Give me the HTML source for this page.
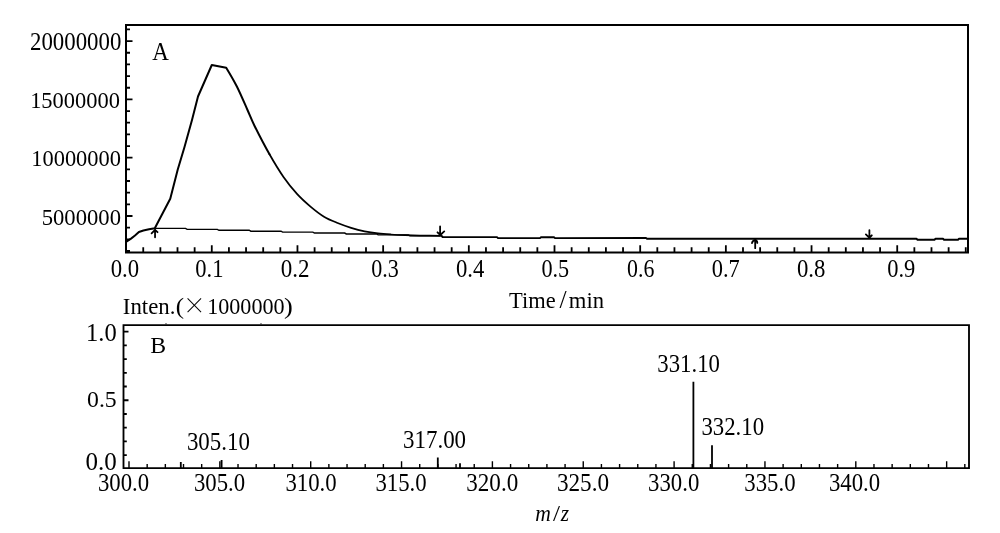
<!DOCTYPE html>
<html lang="en">
<head>
<meta charset="utf-8">
<title>Chromatogram and mass spectrum</title>
<style>
html,body{margin:0;padding:0;background:#fff;}
body{width:1000px;height:533px;overflow:hidden;}
svg{display:block;}
text{fill:#000;}
.ln{stroke:#000;fill:none;}
</style>
</head>
<body>
<svg width="1000" height="533" viewBox="0 0 1000 533">
<rect width="1000" height="533" fill="#fff"/>
<g class="ln" stroke-width="2.00" stroke-linecap="square">
<path d="M126.00 252.50V25.00H968.00V252.50Z"/>
</g>
<path class="ln" stroke-width="1.80" d="M126.00 29.44h4.00M126.00 41.10h6.50M126.00 52.76h4.00M126.00 64.42h4.00M126.00 76.08h4.00M126.00 87.74h4.00M126.00 99.40h6.50M126.00 111.06h4.00M126.00 122.72h4.00M126.00 134.38h4.00M126.00 146.04h4.00M126.00 157.70h6.50M126.00 169.36h4.00M126.00 181.02h4.00M126.00 192.68h4.00M126.00 204.34h4.00M126.00 216.00h6.50M126.00 227.66h4.00M126.00 239.32h4.00M126.00 250.98h4.00"/>
<path class="ln" stroke-width="1.80" d="M143.24 252.50v-5.20M160.37 252.50v-5.20M177.51 252.50v-5.20M194.64 252.50v-5.20M211.78 252.50v-7.30M228.92 252.50v-5.20M246.05 252.50v-5.20M263.19 252.50v-5.20M280.32 252.50v-5.20M297.46 252.50v-7.30M314.60 252.50v-5.20M331.73 252.50v-5.20M348.87 252.50v-5.20M366.00 252.50v-5.20M383.14 252.50v-7.30M400.28 252.50v-5.20M417.41 252.50v-5.20M434.55 252.50v-5.20M451.68 252.50v-5.20M468.82 252.50v-7.30M485.96 252.50v-5.20M503.09 252.50v-5.20M520.23 252.50v-5.20M537.36 252.50v-5.20M554.50 252.50v-7.30M571.64 252.50v-5.20M588.77 252.50v-5.20M605.91 252.50v-5.20M623.04 252.50v-5.20M640.18 252.50v-7.30M657.32 252.50v-5.20M674.45 252.50v-5.20M691.59 252.50v-5.20M708.72 252.50v-5.20M725.86 252.50v-7.30M743.00 252.50v-5.20M760.13 252.50v-5.20M777.27 252.50v-5.20M794.40 252.50v-5.20M811.54 252.50v-7.30M828.68 252.50v-5.20M845.81 252.50v-5.20M862.95 252.50v-5.20M880.08 252.50v-5.20M897.22 252.50v-7.30M914.36 252.50v-5.20M931.49 252.50v-5.20M948.63 252.50v-5.20M965.76 252.50v-5.20"/>
<path class="ln" stroke-width="2.0" stroke-linejoin="round" stroke-linecap="round" d="M126.75 241.50L131.00 238.60L135.00 235.50L138.90 232.00L143.40 230.50L149.00 229.20L154.80 228.30L170.25 198.75L177.75 169.50L184.50 147.00L192.00 120.00L198.00 96.50L211.80 65.00L226.20 67.70C226.20 67.70 233.45 79.70 237.00 86.75C240.55 93.80 244.57 103.46 247.50 110.00C250.43 116.54 250.93 118.62 254.60 126.00C258.27 133.38 264.68 145.80 269.50 154.30"/>
<path class="ln" stroke-width="1.75" stroke-linejoin="round" stroke-linecap="round" d="M269.50 154.30C274.32 162.80 278.92 170.40 283.50 177.00C288.08 183.60 292.50 188.97 297.00 193.90C301.50 198.83 306.00 202.80 310.50 206.60C315.00 210.40 319.48 213.97 324.00 216.70C328.52 219.43 333.08 221.15 337.60 223.00C342.12 224.85 346.60 226.42 351.10 227.80C355.60 229.18 360.12 230.37 364.60 231.30C369.08 232.23 373.60 232.87 378.00 233.40C382.40 233.93 386.50 234.20 391.00 234.50C395.50 234.80 400.17 235.02 405.00 235.20C409.83 235.38 413.92 235.50 420.00 235.60C426.08 235.70 437.92 235.77 441.50 235.80"/>
<path class="ln" stroke-width="1.9" stroke-linejoin="round" d="M441.50 235.80L442.60 237.00L497.00 237.10L498.00 238.10L540.00 238.10L541.00 237.20L554.00 237.20L555.00 238.10L646.00 238.00L647.00 238.80L916.50 238.75L917.50 239.75L934.50 239.75L935.50 238.75L943.00 238.75L944.00 239.75L958.00 239.75L959.00 238.75L968.00 238.75"/>
<path class="ln" stroke-width="1.4" d="M154.50 228.40L185.53 228.40L187.13 229.33L217.37 229.33L218.97 230.25L249.20 230.25L250.80 231.18L281.03 231.18L282.63 232.10L312.87 232.10L314.47 233.03L344.70 233.03L346.30 233.95L376.53 233.95L378.13 234.88L408.37 234.88L409.97 235.80L440.20 235.80"/>
<path class="ln" stroke-width="1.8" stroke-linecap="round" stroke-linejoin="round" d="M155.05 237.3V229.5M151.6 233.3L155.05 229.8L157.5 232.2M440.1 226.4V235M437.5 232.3L440.3 235L444.2 231.4M755.2 248.2V239.6M752.0 243.2Q752.4 240.4 755.2 239.8Q757.3 240.4 757.3 242.9M869.4 230.2V237.8M865.9 234.4L869.4 237.8L871.8 235.3"/>
<g class="ln" stroke-width="1.85" stroke-linecap="square">
<path d="M123.50 468.10V325.10H969.00V468.10Z"/>
</g>
<path class="ln" stroke-width="1.80" d="M123.50 455.17h3.30M123.50 441.44h3.30M123.50 427.71h3.30M123.50 413.98h3.30M123.50 400.25h5.00M123.50 386.52h3.30M123.50 372.79h3.30M123.50 359.06h3.30M123.50 345.33h3.30M123.50 331.60h5.00"/>
<path class="ln" stroke-width="1.4" d="M129.00 468.10v-6.90M147.17 468.10v-4.10M165.34 468.10v-4.10M183.51 468.10v-4.10M201.68 468.10v-4.10M219.85 468.10v-6.90M238.02 468.10v-4.10M256.19 468.10v-4.10M274.36 468.10v-4.10M292.53 468.10v-4.10M310.70 468.10v-6.90M328.87 468.10v-4.10M347.04 468.10v-4.10M365.21 468.10v-4.10M383.38 468.10v-4.10M401.55 468.10v-6.90M419.72 468.10v-4.10M437.89 468.10v-4.10M456.06 468.10v-4.10M474.23 468.10v-4.10M492.40 468.10v-6.90M510.57 468.10v-4.10M528.74 468.10v-4.10M546.91 468.10v-4.10M565.08 468.10v-4.10M583.25 468.10v-6.90M601.42 468.10v-4.10M619.59 468.10v-4.10M637.76 468.10v-4.10M655.93 468.10v-4.10M674.10 468.10v-6.90M692.27 468.10v-4.10M710.44 468.10v-4.10M728.61 468.10v-4.10M746.78 468.10v-4.10M764.95 468.10v-6.90M783.12 468.10v-4.10M801.29 468.10v-4.10M819.46 468.10v-4.10M837.63 468.10v-4.10M855.80 468.10v-6.90M873.97 468.10v-4.10M892.14 468.10v-4.10M910.31 468.10v-4.10M928.48 468.10v-4.10M946.65 468.10v-6.90M964.82 468.10v-4.10"/>
<path class="ln" stroke-width="1.8" d="M180.80 468.10V462.00M221.60 468.10V460.00M437.80 468.10V457.60M460.00 468.10V463.20M693.40 468.10V381.75M712.00 468.10V445.20"/>
<path class="ln" stroke-width="1.3" stroke-opacity="0.8" d="M166 324.3v-1.1M261 324.3v-1.1"/>
<text transform="translate(29.99 49.70) scale(0.9445 1)" font-family="'Liberation Serif', serif" font-size="24.20">20000000</text>
<text transform="translate(30.14 108.00) scale(0.9559 1)" font-family="'Liberation Serif', serif" font-size="23.50">15000000</text>
<text transform="translate(31.25 166.35) scale(0.9548 1)" font-family="'Liberation Serif', serif" font-size="23.50">10000000</text>
<text transform="translate(41.74 225.00) scale(0.9638 1)" font-family="'Liberation Serif', serif" font-size="23.50">5000000</text>
<text transform="translate(110.69 277.00) scale(0.9395 1)" font-family="'Liberation Serif', serif" font-size="24.20">0.0</text>
<text transform="translate(195.30 277.00) scale(0.9309 1)" font-family="'Liberation Serif', serif" font-size="24.20">0.1</text>
<text transform="translate(280.78 277.00) scale(0.9521 1)" font-family="'Liberation Serif', serif" font-size="24.20">0.2</text>
<text transform="translate(371.31 277.00) scale(0.9117 1)" font-family="'Liberation Serif', serif" font-size="24.20">0.3</text>
<text transform="translate(455.89 277.00) scale(0.9376 1)" font-family="'Liberation Serif', serif" font-size="24.20">0.4</text>
<text transform="translate(541.41 277.00) scale(0.9187 1)" font-family="'Liberation Serif', serif" font-size="24.20">0.5</text>
<text transform="translate(627.02 277.00) scale(0.9033 1)" font-family="'Liberation Serif', serif" font-size="24.20">0.6</text>
<text transform="translate(711.70 277.00) scale(0.9273 1)" font-family="'Liberation Serif', serif" font-size="24.20">0.7</text>
<text transform="translate(796.89 277.00) scale(0.9395 1)" font-family="'Liberation Serif', serif" font-size="24.20">0.8</text>
<text transform="translate(887.20 277.00) scale(0.9291 1)" font-family="'Liberation Serif', serif" font-size="24.20">0.9</text>
<text transform="translate(152.20 59.70) scale(0.9408 1)" font-family="'Liberation Serif', serif" font-size="24.40">A</text>
<text transform="translate(509.05 308.00) scale(0.9544 1)" font-family="'Liberation Serif', serif" font-size="23.50">Time</text>
<text transform="translate(559.40 308.30) scale(1.0492 1)" font-family="'Liberation Serif', serif" font-size="24.40">/</text>
<text transform="translate(568.85 308.00) scale(0.9616 1)" font-family="'Liberation Serif', serif" font-size="23.50">min</text>
<text transform="translate(122.79 313.70) scale(0.9845 1)" font-family="'Liberation Serif', serif" font-size="23.20">Inten.</text>
<text transform="translate(175.72 313.50) scale(1.0546 1)" font-family="'Liberation Serif', serif" font-size="23.60">(</text>
<text transform="translate(182.65 313.90) scale(0.9831 1)" font-family="'Noto Serif CJK SC', serif" font-size="23.60">×</text>
<text transform="translate(207.17 313.70) scale(0.9333 1)" font-family="'Liberation Serif', serif" font-size="23.70">1000000</text>
<text transform="translate(284.08 313.50) scale(1.1167 1)" font-family="'Liberation Serif', serif" font-size="23.60">)</text>
<text transform="translate(86.08 340.50) scale(1.0020 1)" font-family="'Liberation Serif', serif" font-size="24.50">1.0</text>
<text transform="translate(87.06 407.10) scale(1.0020 1)" font-family="'Liberation Serif', serif" font-size="23.70">0.5</text>
<text transform="translate(85.52 469.70) scale(1.0292 1)" font-family="'Liberation Serif', serif" font-size="24.30">0.0</text>
<text transform="translate(150.13 353.00) scale(0.9956 1)" font-family="'Liberation Serif', serif" font-size="23.90">B</text>
<text transform="translate(97.93 491.10) scale(0.9303 1)" font-family="'Liberation Serif', serif" font-size="24.50">300.0</text>
<text transform="translate(193.93 491.10) scale(0.9303 1)" font-family="'Liberation Serif', serif" font-size="24.50">305.0</text>
<text transform="translate(285.43 491.10) scale(0.9303 1)" font-family="'Liberation Serif', serif" font-size="24.50">310.0</text>
<text transform="translate(375.43 491.10) scale(0.9303 1)" font-family="'Liberation Serif', serif" font-size="24.50">315.0</text>
<text transform="translate(466.32 491.10) scale(0.9415 1)" font-family="'Liberation Serif', serif" font-size="24.50">320.0</text>
<text transform="translate(556.91 491.10) scale(0.9472 1)" font-family="'Liberation Serif', serif" font-size="24.50">325.0</text>
<text transform="translate(648.03 491.10) scale(0.9303 1)" font-family="'Liberation Serif', serif" font-size="24.50">330.0</text>
<text transform="translate(744.33 491.10) scale(0.9303 1)" font-family="'Liberation Serif', serif" font-size="24.50">335.0</text>
<text transform="translate(828.93 491.10) scale(0.9303 1)" font-family="'Liberation Serif', serif" font-size="24.50">340.0</text>
<text transform="translate(186.93 450.00) scale(0.9311 1)" font-family="'Liberation Serif', serif" font-size="24.60">305.10</text>
<text transform="translate(403.02 447.70) scale(0.9326 1)" font-family="'Liberation Serif', serif" font-size="24.60">317.00</text>
<text transform="translate(657.33 372.10) scale(0.9326 1)" font-family="'Liberation Serif', serif" font-size="24.40">331.10</text>
<text transform="translate(701.43 435.20) scale(0.9341 1)" font-family="'Liberation Serif', serif" font-size="24.40">332.10</text>
<text transform="translate(535.32 520.60) scale(0.9208 1)" font-family="'Liberation Serif', serif" font-size="23.50" font-style="italic">m</text>
<text transform="translate(552.90 520.90) scale(1.0742 1)" font-family="'Liberation Serif', serif" font-size="23.50">/</text>
<text transform="translate(560.63 520.60) scale(0.9113 1)" font-family="'Liberation Serif', serif" font-size="23.50" font-style="italic">z</text>
</svg>
</body>
</html>
